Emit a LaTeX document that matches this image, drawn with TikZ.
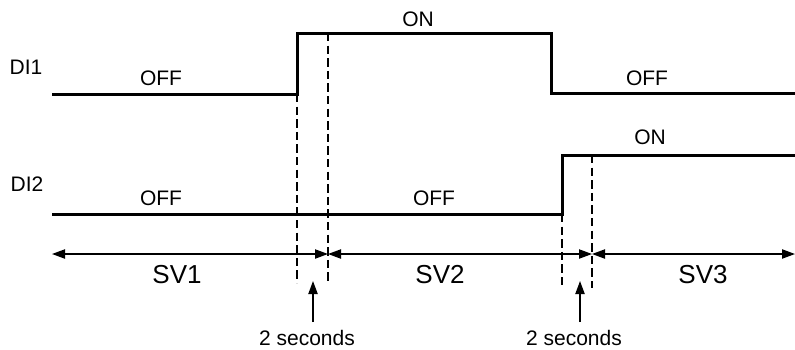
\documentclass[tikz,border=0pt]{standalone}
\usepackage{fontspec}
\setmainfont{Liberation Sans}
\usetikzlibrary{positioning,arrows.meta}

\tikzset{
  wave/.style={line width=1.5pt, line join=miter},
  guide/.style={line width=0.75pt, dash pattern=on 4.2pt off 2.1pt},
  span/.style={line width=0.75pt, {Triangle[length=6.5pt,width=4.6pt]}-{Triangle[length=6.5pt,width=4.6pt]}},
  lbl/.style={font=\fontsize{10.5}{12}\selectfont, inner sep=0pt},
  svlbl/.style={font=\fontsize{13}{15}\selectfont, inner sep=0pt}
}

\begin{document}
\begin{tikzpicture}[x=0.5pt, y=-0.5pt, >=Triangle]
        \useasboundingbox (0,0) rectangle (795,349);
        % signals
        \draw[wave] (52,94) -- (297,94) -- (297,33.5) -- (551,33.5) -- (551,93.5) -- (795,93.5);
        \draw[wave] (52,214) -- (562,214) -- (562,155) -- (795,155);
        \node[lbl] (di1) at (26,67) {DI1};
        \node[lbl] (di2) at (27,184) {DI2};
        \node[lbl] (off1) at (161,78) {OFF};
        \node[lbl] (on1) at (418,19) {ON};
        \node[lbl] (off2) at (647,78) {OFF};
        \node[lbl] (off3) at (161,198) {OFF};
        \node[lbl] (off4) at (434,198) {OFF};
        \node[lbl] (on2) at (650,137) {ON};
        % delay guides
        \draw[guide] (297,94) -- (297,283);
        \draw[guide] (328,33) -- (328,282);
        \draw[guide] (562,214) -- (562,287);
        \draw[guide] (592,155) -- (592,288);
        % periods
        \coordinate (t0) at (52,254);
        \coordinate (t1) at (328,254);
        \coordinate (t2) at (592,254);
        \coordinate (t3) at (795,254);
        \draw[span] (t0) -- (t1);
        \draw[span] (t1) -- (t2);
        \draw[span] (t2) -- (t3);
        \node[svlbl] (sv1) at (177,275) {SV1};
        \node[svlbl] (sv2) at (440,275) {SV2};
        \node[svlbl] (sv3) at (703,275) {SV3};
        % delay marks
        \node[lbl] (d1) at (307,338) {2 seconds};
        \node[lbl] (d2) at (574,338) {2 seconds};
        \coordinate (p1) at (313,281);
        \coordinate (p2) at (580,281);
        \draw[line width=0.75pt, -{Triangle[length=6.5pt,width=4.6pt]}] (313,322) -- (p1);
        \draw[line width=0.75pt, -{Triangle[length=6.5pt,width=4.6pt]}] (580,322) -- (p2);
      \end{tikzpicture}
\end{document}
